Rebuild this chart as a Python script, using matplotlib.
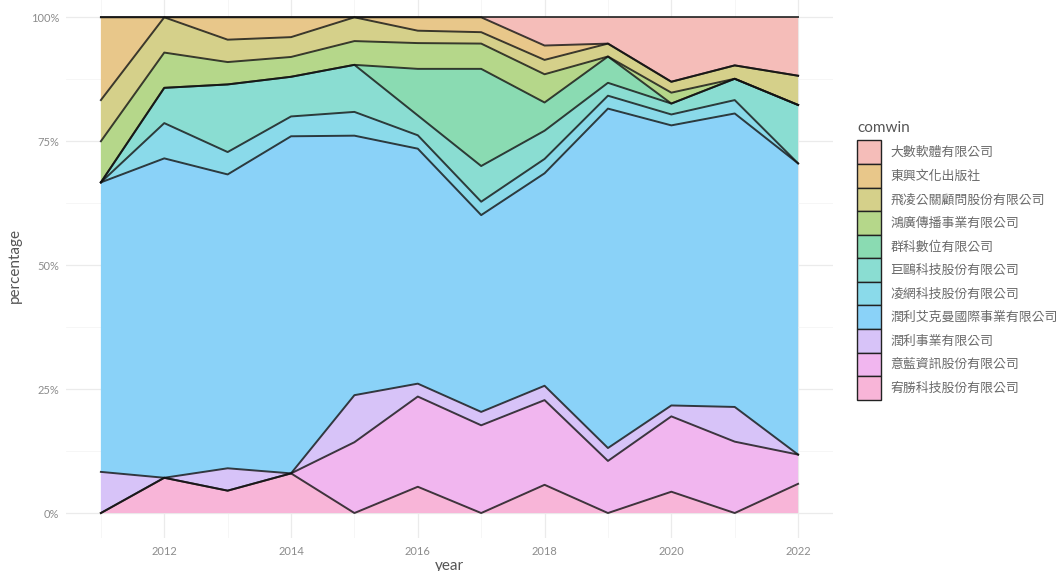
import numpy as np
import matplotlib
matplotlib.use("Agg")
import matplotlib.pyplot as plt
from matplotlib.patches import Patch
from matplotlib.ticker import MultipleLocator, FuncFormatter

years = list(range(2011, 2023))

# share of each company per year (percent)
dashu = [0, 0, 0, 0, 0, 0, 0, 5.7, 5.3, 13.0, 9.7, 11.8]
dongxing = [16.7, 0, 4.5, 4.0, 0, 2.7, 3.0, 2.9, 0, 0, 0, 0]
feiling = [8.3, 7.1, 4.5, 4.0, 4.8, 2.5, 2.3, 2.9, 2.6, 2.2, 2.7, 5.9]
hongguang = [8.3, 7.1, 4.5, 4.0, 4.8, 5.2, 5.1, 5.7, 0, 2.2, 0, 0]
qunke = [0, 0, 0, 0, 0, 9.4, 19.6, 5.7, 5.3, 0, 0, 0]
juou = [0, 7.1, 13.6, 8.0, 9.5, 4.0, 7.2, 5.7, 2.6, 2.2, 4.3, 11.8]
lingwang = [0, 7.1, 4.5, 4.0, 4.8, 2.7, 2.7, 2.9, 2.6, 2.2, 2.7, 0]
runli_ackerman = [58.4, 64.3, 59.1, 68.0, 52.4, 47.4, 39.7, 42.9, 68.4, 56.5, 59.2, 58.8]
runli = [8.3, 0, 4.5, 0, 9.5, 2.6, 2.7, 2.9, 2.6, 2.2, 7.0, 0]
yilan = [0, 0, 0, 0, 14.3, 18.2, 17.7, 17.1, 10.5, 15.2, 14.4, 5.9]
yousheng = [0, 7.1, 4.5, 8.0, 0, 5.3, 0, 5.7, 0, 4.3, 0, 5.9]

labels = ["大數軟體有限公司", "東興文化出版社", "飛凌公關顧問股份有限公司",
          "鴻廣傳播事業有限公司", "群科數位有限公司", "巨鷗科技股份有限公司",
          "凌網科技股份有限公司", "潤利艾克曼國際事業有限公司", "潤利事業有限公司",
          "意藍資訊股份有限公司", "宥勝科技股份有限公司"]
series = [dashu, dongxing, feiling, hongguang, qunke, juou, lingwang,
          runli_ackerman, runli, yilan, yousheng]
# ggplot2 default hue palette, 11 levels
hues = ["#F8766D", "#DB8E00", "#AEA200", "#64B200", "#00BD5C", "#00C1A7",
        "#00BADE", "#00A6FF", "#B385FF", "#EF67EB", "#FF63B6"]
ALPHA = 0.5


def washed(c):
    # alpha over white, then a little muted like the source image
    rgb = np.array(matplotlib.colors.to_rgb(c))
    rgb = 1 - ALPHA + ALPHA * rgb
    return tuple(0.86 * rgb + 0.14 * 0.80)


colors = [washed(c) for c in hues]

plt.rcParams["font.family"] = ["Lato", "Noto Sans CJK TC", "DejaVu Sans"]

vals = np.array(series[::-1], dtype=float)          # bottom -> top
pct = vals / vals.sum(axis=0) * 100
cum = pct.cumsum(axis=0)

fig = plt.figure(figsize=(10.63, 5.71), dpi=100)
ax = fig.add_axes([0.0621, 0.0581, 0.7215, 0.955])

ax.stackplot(years, pct, colors=colors[::-1], lw=0, zorder=2)
for row in cum[::-1]:
    ax.plot(years, row, color="#111111", alpha=0.8, lw=1.4, zorder=3)

ax.set_xlim(2011 - 0.55, 2022 + 0.55)
ax.set_ylim(-5, 105)
ax.xaxis.set_major_locator(MultipleLocator(2))
ax.xaxis.set_minor_locator(MultipleLocator(1))
ax.yaxis.set_major_locator(MultipleLocator(25))
ax.yaxis.set_minor_locator(MultipleLocator(12.5))
ax.yaxis.set_major_formatter(FuncFormatter(lambda v, _: f"{v:.0f}%"))
ax.grid(which="major", color="#EBEBEB", lw=0.9, zorder=0)
ax.grid(which="minor", color="#F3F3F3", lw=0.5, zorder=0)
ax.set_axisbelow(True)
for s in ax.spines.values():
    s.set_visible(False)
ax.tick_params(which="both", length=0, labelsize=8, labelcolor="#8c8c8c")
ax.tick_params(axis="y", pad=5)
ax.tick_params(axis="x", pad=6)
ax.set_xlabel("year", fontsize=11, color="#555555", labelpad=1)
ax.set_ylabel("percentage", fontsize=11, color="#555555", labelpad=6)

handles = [Patch(facecolor=c, edgecolor="#222222", lw=1.0) for c in colors]
leg = fig.legend(handles, labels, loc="upper left",
                 bbox_to_anchor=(857 / 1063, 1 - 140.5 / 571),
                 bbox_transform=fig.transFigure, frameon=False,
                 fontsize=9.3, handlelength=1.86, handleheight=2.43,
                 labelspacing=0, handletextpad=0.74, borderpad=0,
                 borderaxespad=0)
for t in leg.get_texts():
    t.set_color("#6a6a6a")
    t.set_family(["Noto Sans CJK TC", "DejaVu Sans"])
fig.text(857 / 1063, 1 - 128 / 571, "comwin", fontsize=11, color="#555555",
         ha="left", va="center")

fig.savefig("out.png", dpi=100)
